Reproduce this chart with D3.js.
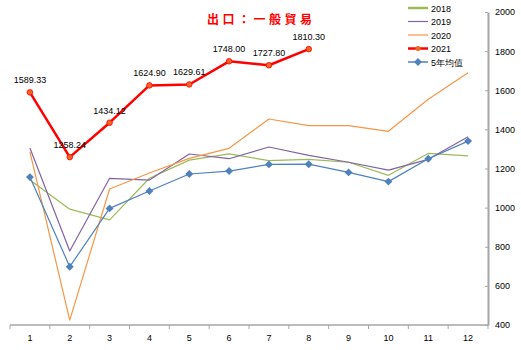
<!DOCTYPE html>
<html><head><meta charset="utf-8">
<script src="https://cdn.jsdelivr.net/npm/d3@7"></script>
<style>body{margin:0;background:#fff}svg{display:block}</style>
</head><body>
<script>
const months = ["1","2","3","4","5","6","7","8","9","10","11","12"];
const s2018 = [1141, 992, 937, 1150, 1243, 1275, 1240, 1247, 1232, 1165, 1277, 1265];
const s2019 = [1305, 778, 1150, 1141, 1274, 1250, 1310, 1267, 1232, 1192, 1247, 1362];
const s2020 = [1285, 425, 1095, 1177, 1252, 1303, 1453, 1419, 1419, 1390, 1554, 1690];
const s2021 = [1589.33, 1258.24, 1434.12, 1624.90, 1629.61, 1748.00, 1727.80, 1810.30];
const avg5 = [1156, 698, 996, 1085, 1172, 1187, 1221, 1222, 1180, 1133, 1250, 1340];
const yTicks = [400, 600, 800, 1000, 1200, 1400, 1600, 1800, 2000];
const seriesNames = ["2018", "2019", "2020", "2021", "5年均值"];
const title = "出口：一般貿易";

const W = 521, H = 350;
const svg = d3.select("body").append("svg").attr("width", W).attr("height", H);
const x = d3.scaleBand().domain(months).range([10, 488]);
const y = d3.scaleLinear().domain([400, 2000]).range([325, 12]);
const cx = d => x(d) + x.bandwidth() / 2;

// axes
const xAxis = svg.append("g").attr("transform", "translate(0,325)");
xAxis.append("line").attr("x1", 10).attr("x2", 488).attr("y1", 0).attr("y2", 0).attr("stroke", "#a6a6a6").attr("stroke-width", 1.5);
const bounds = months.map(m => x(m)).concat([488]);
xAxis.selectAll("line.t").data(bounds).enter().append("line").attr("class", "t")
  .attr("x1", d => d).attr("x2", d => d).attr("y1", 0).attr("y2", 4).attr("stroke", "#a6a6a6");
xAxis.selectAll("text").data(months).enter().append("text")
  .attr("x", d => cx(d)).attr("y", 16).attr("text-anchor", "middle")
  .attr("font-family", "Liberation Sans, Arial").attr("font-size", 9).attr("fill", "#000").text(d => d);

const yAxis = d3.axisRight(y).tickValues(yTicks).tickSize(0).tickPadding(7).tickFormat(d3.format("d"));
const yg = svg.append("g").attr("transform", "translate(488,0)").call(yAxis);
yg.select(".domain").attr("stroke", "#a6a6a6").attr("stroke-width", 2);
yg.selectAll(".tick").append("line").attr("x1", -3).attr("x2", 0).attr("stroke", "#a6a6a6");
yg.selectAll("text").attr("font-family", "Liberation Sans, Arial").attr("font-size", 9).attr("fill", "#000");

const line = d3.line().x((d, i) => cx(months[i])).y(d => y(d));
const styles = [
  {data: s2018, color: "#9BBB59", w: 1.2},
  {data: s2019, color: "#8064A2", w: 1.2},
  {data: s2020, color: "#F79646", w: 1.2},
  {data: avg5, color: "#4F81BD", w: 1.2, diamond: true},
  {data: s2021, color: "#FF0000", w: 2.5, dot: true}
];
styles.forEach(s => {
  svg.append("path").datum(s.data).attr("d", line).attr("fill", "none")
    .attr("stroke", s.color).attr("stroke-width", s.w).attr("stroke-linejoin", "round");
  if (s.diamond) {
    svg.selectAll(null).data(s.data).enter().append("path")
      .attr("d", d3.symbol().type(d3.symbolDiamond2).size(40))
      .attr("transform", (d, i) => `translate(${cx(months[i])},${y(d)})`)
      .attr("fill", "#4F81BD");
  }
  if (s.dot) {
    svg.selectAll(null).data(s.data).enter().append("circle")
      .attr("cx", (d, i) => cx(months[i])).attr("cy", d => y(d)).attr("r", 2.8)
      .attr("fill", "#F26522").attr("stroke", "#FF0000").attr("stroke-width", 0.8);
    svg.selectAll(null).data(s.data).enter().append("text")
      .attr("x", (d, i) => cx(months[i])).attr("y", d => y(d) - 9)
      .attr("text-anchor", "middle").attr("font-family", "Liberation Sans, Arial")
      .attr("font-size", 9).attr("fill", "#000").text(d => d.toFixed(2));
  }
});

// title
svg.append("text").attr("x", 207).attr("y", 24).attr("text-anchor", "start")
  .attr("font-family", "Noto Sans CJK TC").attr("font-weight", "bold").attr("font-size", 12)
  .attr("letter-spacing", 3.5).attr("fill", "#FF0000").text(title);

// legend
const legColors = ["#9BBB59", "#8064A2", "#F79646", "#FF0000", "#4F81BD"];
const legW = [2.5, 1.2, 1.2, 2.5, 1.5];
const lg = svg.append("g");
seriesNames.forEach((n, i) => {
  const ly = 8 + i * 13.5;
  lg.append("line").attr("x1", 408).attr("x2", 428).attr("y1", ly).attr("y2", ly)
    .attr("stroke", legColors[i]).attr("stroke-width", legW[i]);
  if (i === 3) lg.append("circle").attr("cx", 418).attr("cy", ly).attr("r", 2.5).attr("fill", "#F26522");
  if (i === 4) lg.append("path").attr("d", d3.symbol().type(d3.symbolDiamond2).size(40)).attr("transform", `translate(418,${ly})`).attr("fill", "#4F81BD");
  lg.append("text").attr("x", 431).attr("y", ly + 3.5).attr("font-family", "Liberation Sans, Arial")
    .attr("font-size", 9).attr("fill", "#000").text(n);
});
</script>
</body></html>
